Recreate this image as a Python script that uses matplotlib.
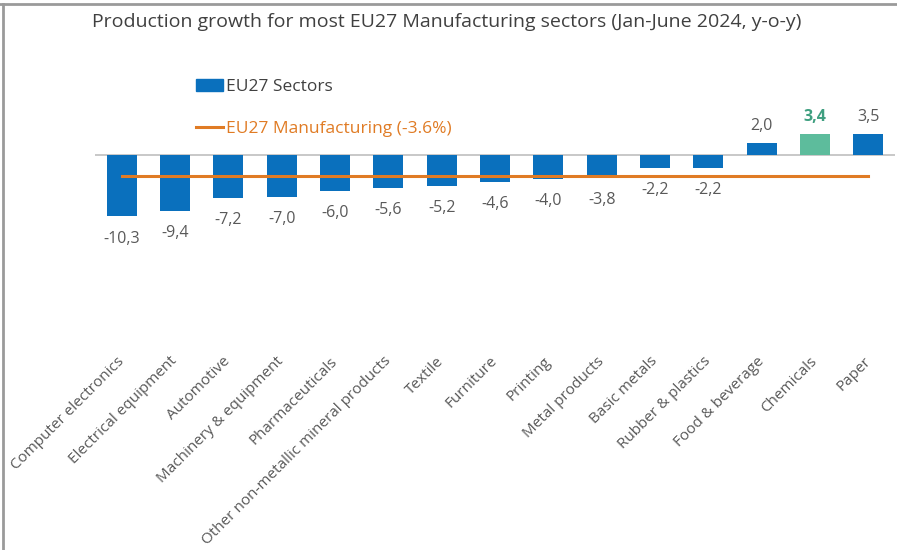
import numpy as np
import matplotlib.pyplot as plt
from matplotlib.patches import Patch
from matplotlib.lines import Line2D

sectors = ['Computer electronics', 'Electrical equipment', 'Automotive',
           'Machinery & equipment', 'Pharmaceuticals',
           'Other non-metallic mineral products', 'Textile', 'Furniture',
           'Printing', 'Metal products', 'Basic metals', 'Rubber & plastics',
           'Food & beverage', 'Chemicals', 'Paper']
growth = [-10.3, -9.4, -7.2, -7.0, -6.0, -5.6, -5.2, -4.6, -4.0, -3.8,
          -2.2, -2.2, 2.0, 3.4, 3.5]
manufacturing = -3.6
highlight = 'Chemicals'

blue = '#0a70bd'
teal = '#5dbc9c'
orange = '#e07b24'
grey_txt = '#595959'

plt.rcParams['font.family'] = ['Open Sans', 'DejaVu Sans']

fig = plt.figure(figsize=(8.97, 5.50), dpi=100)
W, H = 897, 550
ax = fig.add_axes([95 / W, 203.5 / H, 800 / W, 222 / H])

x = np.arange(len(sectors))
colors = [teal if s == highlight else blue for s in sectors]
ax.bar(x, growth, width=0.56, color=colors, zorder=2)
ax.axhline(0, color='#bfbfbf', lw=1.2, zorder=1)
ax.plot([x[0], x[-1]], [manufacturing, manufacturing], color=orange, lw=2.2, zorder=3)

# value labels, comma decimals
for xi, v, s in zip(x, growth, sectors):
    txt = ('%.1f' % v).replace('.', ',')
    if s == highlight:
        col, fw = '#3f9f80', 'bold'
    else:
        col, fw = grey_txt, 'normal'
    off = 12 if v > 0 else -16
    ax.annotate(txt, (xi, v), xytext=(0, off), textcoords='offset points',
                ha='center', va='center', fontsize=11.5, color=col, fontweight=fw)

ax.set_xlim(-0.5, 14.5)
ax.set_ylim(-32, 5)
ax.set_yticks([])
ax.set_xticks(x)
ax.set_xticklabels(sectors, rotation=45, ha='right', va='center',
                   rotation_mode='anchor', fontsize=11, color=grey_txt)
ax.tick_params(axis='x', length=0, pad=9)
for sp in ax.spines.values():
    sp.set_visible(False)

fig.text(447 / W, 1 - 22 / H,
         'Production growth for most EU27 Manufacturing sectors (Jan-June 2024, y-o-y)',
         ha='center', va='center', fontsize=14, color='#404040')

handles = [Patch(color=blue), Line2D([], [], color=orange, lw=2.2)]
fig.legend(handles, ['EU27 Sectors', 'EU27 Manufacturing (-3.6%)'],
           loc='upper left', bbox_to_anchor=(187 / W, 1 - 70 / H),
           frameon=False, borderpad=0, fontsize=12.5, handlelength=1.6,
           handletextpad=0.12, labelspacing=1.5,
           labelcolor=['#404040', orange])

# grey frame on top and left edges
fig.add_artist(Line2D([0, 1], [1 - 4 / H, 1 - 4 / H], transform=fig.transFigure,
                      color='#9a9a9a', lw=2))
fig.add_artist(Line2D([3 / W, 3 / W], [0, 1 - 4 / H], transform=fig.transFigure,
                      color='#9a9a9a', lw=2))

fig.savefig('out.png', dpi=100)
